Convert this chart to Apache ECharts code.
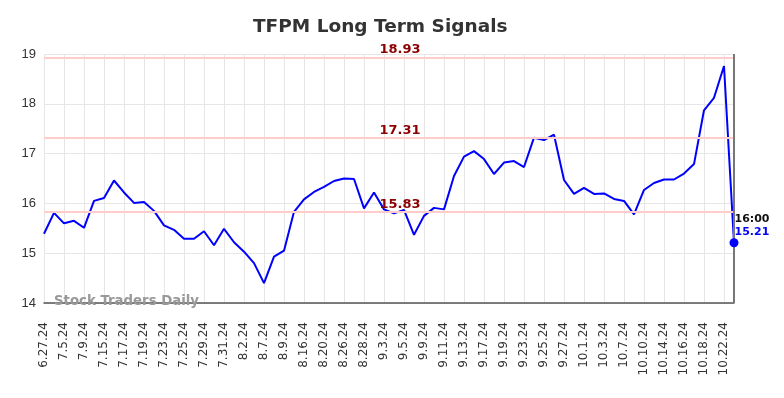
<!DOCTYPE html>
<html>
<head>
<meta charset="utf-8">
<script src="https://cdn.jsdelivr.net/npm/echarts@6/dist/echarts.min.js"></script>
<style>
    html, body { margin: 0; padding: 0; background: #fff; }
    #main { width: 784px; height: 398px; }
</style>
</head>
<body>
<div id="main"></div>
<script>
// dates of the closes (labelled every other one)
var dates = ['6.27.24', '7.1.24', '7.5.24', '7.8.24', '7.9.24', '7.12.24', '7.15.24', '7.16.24', '7.17.24', '7.18.24',
    '7.19.24', '7.22.24', '7.23.24', '7.24.24', '7.25.24', '7.26.24', '7.29.24', '7.30.24', '7.31.24', '8.1.24',
    '8.2.24', '8.6.24', '8.7.24', '8.8.24', '8.9.24', '8.13.24', '8.16.24', '8.19.24', '8.20.24', '8.22.24',
    '8.26.24', '8.27.24', '8.28.24', '8.30.24', '9.3.24', '9.4.24', '9.5.24', '9.6.24', '9.9.24', '9.10.24',
    '9.11.24', '9.12.24', '9.13.24', '9.16.24', '9.17.24', '9.18.24', '9.19.24', '9.20.24', '9.23.24', '9.24.24',
    '9.25.24', '9.26.24', '9.27.24', '9.30.24', '10.1.24', '10.2.24', '10.3.24', '10.4.24', '10.7.24', '10.9.24',
    '10.10.24', '10.11.24', '10.14.24', '10.15.24', '10.16.24', '10.17.24', '10.18.24', '10.21.24', '10.22.24', '10.23.24'];

var prices = [15.39, 15.81, 15.60, 15.65, 15.51, 16.05, 16.11, 16.46, 16.22, 16.01,
    16.03, 15.85, 15.56, 15.47, 15.29, 15.29, 15.44, 15.16, 15.49, 15.22,
    15.03, 14.80, 14.40, 14.93, 15.05, 15.83, 16.08, 16.23, 16.33, 16.45,
    16.50, 16.49, 15.90, 16.22, 15.88, 15.80, 15.87, 15.37, 15.75, 15.91,
    15.88, 16.55, 16.94, 17.05, 16.89, 16.59, 16.82, 16.85, 16.73, 17.32,
    17.27, 17.38, 16.47, 16.19, 16.31, 16.19, 16.20, 16.09, 16.05, 15.78,
    16.27, 16.41, 16.48, 16.48, 16.60, 16.79, 17.87, 18.12, 18.76, 15.21];

// signal levels
var levels = [18.93, 17.31, 15.83];
var yTicks = [14, 15, 16, 17, 18, 19];
var lastTime = '16:00';

var chart = echarts.init(document.getElementById('main'));

var lastIdx = prices.length - 1;
var lastVal = prices[lastIdx];

var levelLines = levels.map(function (lv) {
    return {
        yAxis: lv,
        lineStyle: { color: '#ffcccc', width: 2, type: 'solid' },
        label: {
            show: true,
            position: 'middle',
            formatter: lv.toFixed(2),
            color: '#8b0000',
            fontWeight: 'bold',
            fontSize: 13,
            fontFamily: 'DejaVu Sans',
            distance: 1,
            padding: [0, 0, 0, 22]
        }
    };
});
levelLines.push({
    xAxis: dates[lastIdx],
    lineStyle: { color: '#777', width: 2, type: 'solid' },
    label: { show: false }
});

var option = {
    animation: false,
    title: {
        text: 'TFPM Long Term Signals',
        left: 248,
        top: 13,
        textStyle: { fontSize: 18.5, fontWeight: 'bold', color: '#333', fontFamily: 'DejaVu Sans' }
    },
    grid: { left: 44, right: 50, top: 54, bottom: 95, containLabel: false },
    xAxis: {
        type: 'category',
        data: dates,
        boundaryGap: false,
        axisLine: { lineStyle: { color: '#555', width: 1.5 } },
        axisTick: { show: false },
        axisLabel: {
            interval: 1,
            rotate: 90,
            color: '#333',
            fontSize: 12,
            fontFamily: 'DejaVu Sans',
            margin: 19
        },
        splitLine: { show: true, interval: 1, lineStyle: { color: '#e6e6e6', width: 1 } }
    },
    yAxis: {
        type: 'value',
        min: yTicks[0],
        max: yTicks[yTicks.length - 1],
        interval: 1,
        axisLine: { show: false },
        axisTick: { show: false },
        axisLabel: { color: '#333', fontSize: 13, fontFamily: 'Liberation Sans', margin: 8 },
        splitLine: { lineStyle: { color: '#e6e6e6', width: 1 } }
    },
    graphic: [{
        type: 'text',
        left: 54,
        top: 295,
        z: 100,
        style: { text: 'Stock Traders Daily', fill: '#999', font: 'bold 13.3px "DejaVu Sans"' }
    }],
    series: [{
        type: 'line',
        data: prices,
        showSymbol: false,
        symbol: 'none',
        lineStyle: { color: '#0000ff', width: 2 },
        itemStyle: { color: '#0000ff' },
        markLine: {
            silent: true,
            symbol: 'none',
            data: levelLines
        },
        markPoint: {
            silent: true,
            data: [{
                coord: [lastIdx, lastVal],
                symbol: 'circle',
                symbolSize: 9,
                itemStyle: { color: '#0000ff' },
                label: {
                    show: true,
                    position: 'right',
                    distance: 0,
                    offset: [-4, -17],
                    formatter: '{t|' + lastTime + '}\n{v|' + lastVal.toFixed(2) + '}',
                    rich: {
                        t: { color: '#111', fontWeight: 'bold', fontSize: 11, fontFamily: 'DejaVu Sans', lineHeight: 13 },
                        v: { color: '#0000ff', fontWeight: 'bold', fontSize: 11, fontFamily: 'DejaVu Sans', lineHeight: 13 }
                    }
                }
            }]
        }
    }]
};
chart.setOption(option);
</script>
</body>
</html>
